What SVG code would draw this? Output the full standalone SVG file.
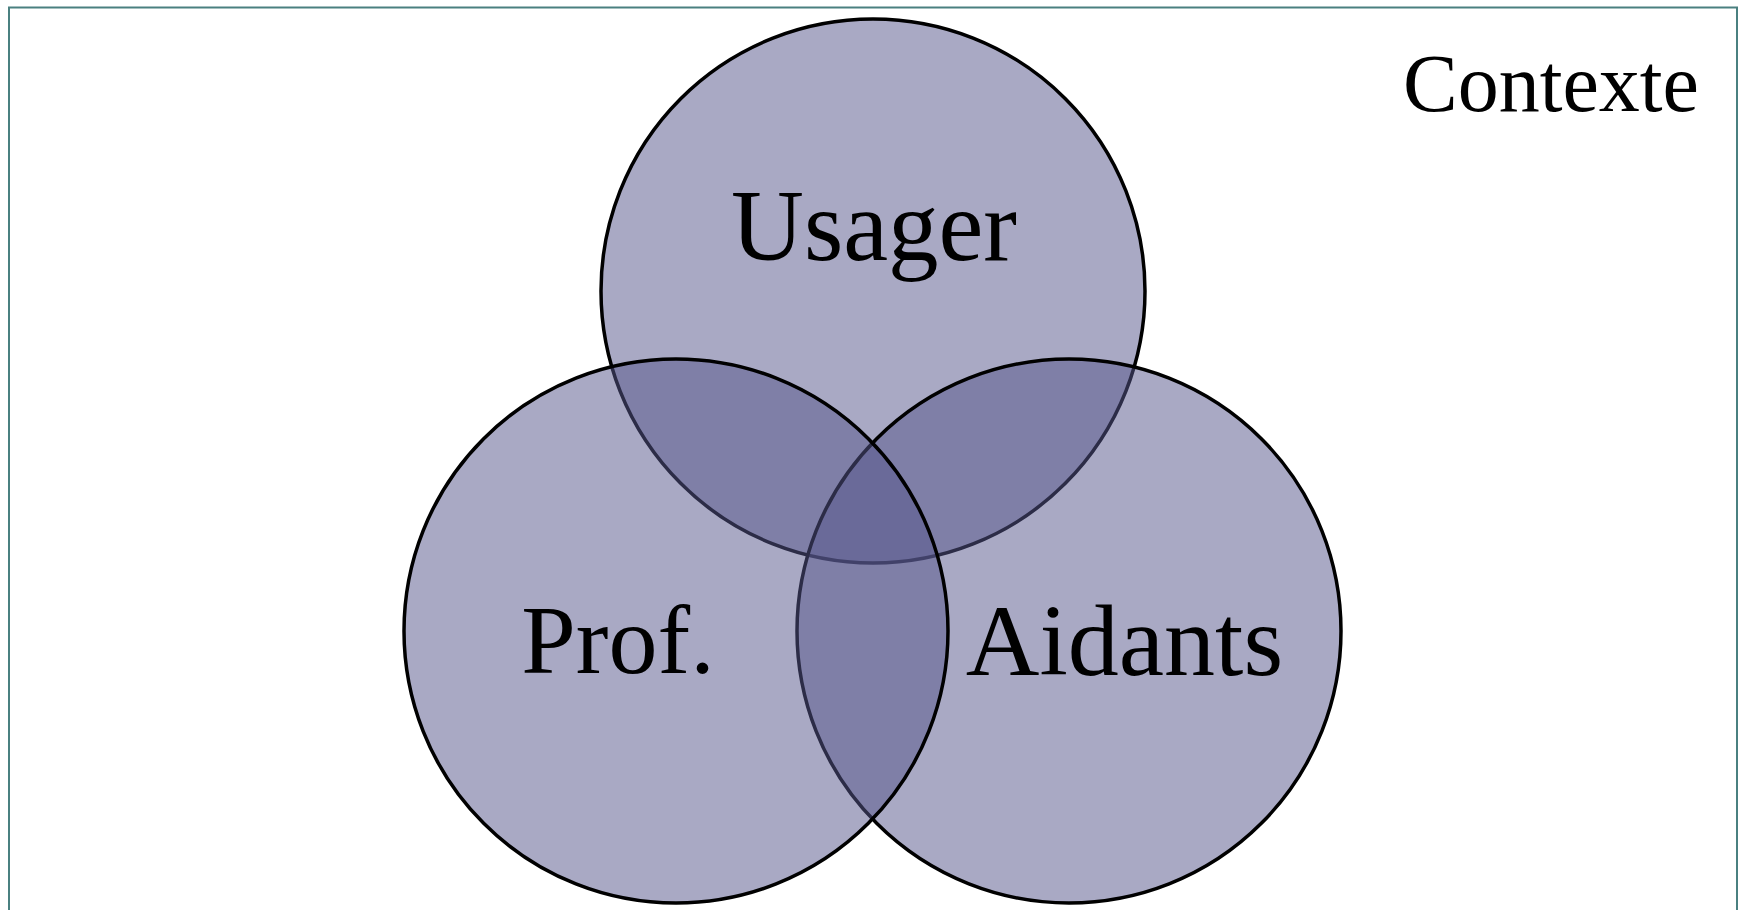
<svg xmlns="http://www.w3.org/2000/svg" width="1743" height="910" viewBox="0 0 1743 910">
<style>
.c{fill:rgb(87,87,140);fill-opacity:0.51;stroke:#000;stroke-width:3.5}
.t{font-family:"Liberation Serif","Times New Roman",serif;fill:#000}
</style>
<rect x="0" y="0" width="1743" height="910" fill="#fff"/>
<rect id="contexte-frame" x="9" y="7.5" width="1728" height="920" fill="none" stroke="#4a8080" stroke-width="2"/>
<g id="connectors"></g>
<g id="usager"><circle class="c" cx="873" cy="291" r="272"/><text class="t" x="874" y="260" font-size="101" text-anchor="middle">Usager</text></g>
<g id="aidants"><circle class="c" cx="1069" cy="631" r="272"/><text class="t" x="1124.5" y="675" font-size="102" text-anchor="middle">Aidants</text></g>
<g id="prof"><circle class="c" cx="676" cy="631" r="272"/><text class="t" x="618" y="673" font-size="98" text-anchor="middle">Prof.</text></g>
<g id="contexte"><text class="t" x="1699" y="111" font-size="82" text-anchor="end">Contexte</text></g>
</svg>
